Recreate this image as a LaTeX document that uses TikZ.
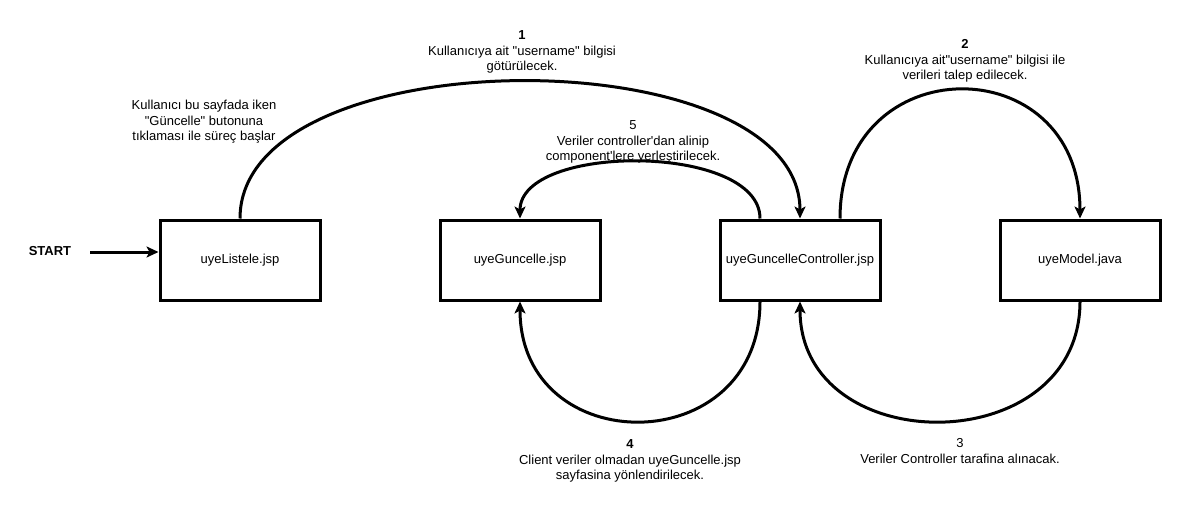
\documentclass[tikz,border=0pt]{standalone}
\usepackage{fontspec}
\setmainfont{Liberation Sans}
\usetikzlibrary{arrows.meta}
\newcommand{\dq}{\textquotedbl}
\newcommand{\sq}{\textquotesingle}
\begin{document}
\begin{tikzpicture}[x=1pt,y=-1pt,
  every node/.style={font=\fontsize{13}{15.5}\selectfont},
  page/.style={draw,line width=3pt,minimum width=160pt,minimum height=80pt,inner sep=0pt},
  note/.style={align=center,inner sep=0pt},
  flow/.style={line width=3pt,-{Stealth[length=12pt,width=11pt,inset=3pt]}}]
\useasboundingbox (0,0) rectangle (1182,513);

% pages of the update flow
\node[page] (liste) at (240,260) {uyeListele.jsp};
\node[page] (guncel) at (520,260) {uyeGuncelle.jsp};
\node[page] (ctrl) at (800,260) {uyeGuncelleController.jsp};
\node[page] (model) at (1080,260) {uyeModel.java};

% entry point
\node[font=\fontsize{13}{15.5}\selectfont\bfseries] (start) at (50,251) {START};
\coordinate (startend) at (90,252);
\draw[flow] (startend) -- (liste.west |- startend);

% 1: list page -> controller
\draw[flow] (liste.north) .. controls (240,36) and (800,36) .. (ctrl.north);
% 2: controller -> model
\draw[flow] ([xshift=40pt]ctrl.north) .. controls (840,47) and (1080,47) .. (model.north);
% 3: model -> controller
\draw[flow] (model.south) .. controls (1080,461) and (800,461) .. (ctrl.south);
% 4: controller -> update page (without data)
\draw[flow] ([xshift=-40pt]ctrl.south) .. controls (760,461) and (520,461) .. (guncel.south);
% 5: controller -> update page (filling components)
\draw[flow] ([xshift=-40pt]ctrl.north) .. controls (760,143) and (520,143) .. (guncel.north);

% step descriptions
\node[note] (n0) at (204,122) {Kullanıcı bu sayfada iken\\ \dq Güncelle\dq{} butonuna\\ tıklaması ile süreç başlar};
\node[note] (n1) at (522,52) {\textbf{1}\\ Kullanıcıya ait \dq username\dq{} bilgisi\\ götürülecek.};
\node[note] (n2) at (965,61) {\textbf{2}\\ Kullanıcıya ait\dq username\dq{} bilgisi ile\\ verileri talep edilecek.};
\node[note] (n5) at (633,142) {5\\ Veriler controller\sq dan alinip\\ component\sq lere yerleştirilecek.};
\node[note] (n4) at (630,461) {\textbf{4}\\ Client veriler olmadan uyeGuncelle.jsp\\ sayfasina yönlendirilecek.};
\node[note] (n3) at (960,451) {3\\ Veriler Controller tarafina alınacak.};
\end{tikzpicture}
\end{document}
